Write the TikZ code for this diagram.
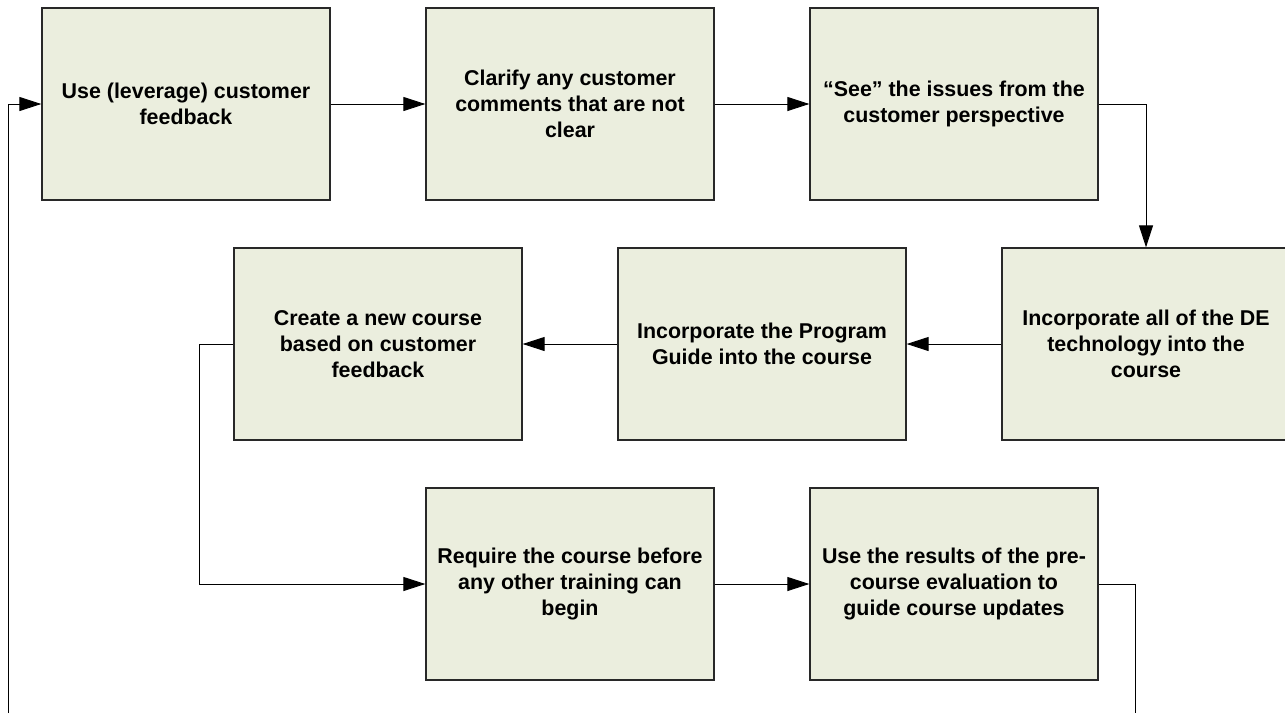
\documentclass[tikz,border=0pt]{standalone}
\usepackage{fontspec}
\setmainfont{Liberation Sans}
\usetikzlibrary{arrows.meta}
\definecolor{boxfill}{RGB}{235,238,222}
\definecolor{boxline}{RGB}{40,40,40}
\tikzset{
  stepbox/.style={draw=boxline, line width=1.3pt, fill=boxfill, minimum width=288pt, minimum height=192pt,
    inner sep=0pt, align=center, font=\fontsize{21.4}{26}\selectfont\bfseries},
  flow/.style={draw=black, line width=0.9pt, -{Triangle[length=22pt,width=14pt]}},
  plain/.style={draw=black, line width=0.9pt}
}
\begin{document}
\begin{tikzpicture}[x=1pt,y=-1pt]
\useasboundingbox (0,0) rectangle (1285,713);
\node[stepbox] (b1) at (186,104) {Use (leverage) customer\\feedback};
\node[stepbox] (b2) at (570,104) {Clarify any customer\\comments that are not\\clear};
\node[stepbox] (b3) at (954,104) {“See” the issues from the\\customer perspective};
\node[stepbox] (b4) at (1146,344) {Incorporate all of the DE\\technology into the\\course};
\node[stepbox] (b5) at (762,344) {Incorporate the Program\\Guide into the course};
\node[stepbox] (b6) at (378,344) {Create a new course\\based on customer\\feedback};
\node[stepbox] (b7) at (570,584) {Require the course before\\any other training can\\begin};
\node[stepbox] (b8) at (954,584) {Use the results of the pre-\\course evaluation to\\guide course updates};
\coordinate (outR) at (1135,713);
\coordinate (outL) at (8,713);
\coordinate (bend6) at (199,344);
\draw[flow] (b1.east) -- (b2.west);
\draw[flow] (b2.east) -- (b3.west);
\draw[flow] (b3.east) -| (b4.north);
\draw[flow] (b4.west) -- (b5.east);
\draw[flow] (b5.west) -- (b6.east);
\draw[flow] (b6.west) -- (bend6) |- (b7.west);
\draw[flow] (b7.east) -- (b8.west);
\draw[plain] (b8.east) -| (outR);
\draw[flow] (outL) |- (b1.west);
\end{tikzpicture}
\end{document}
